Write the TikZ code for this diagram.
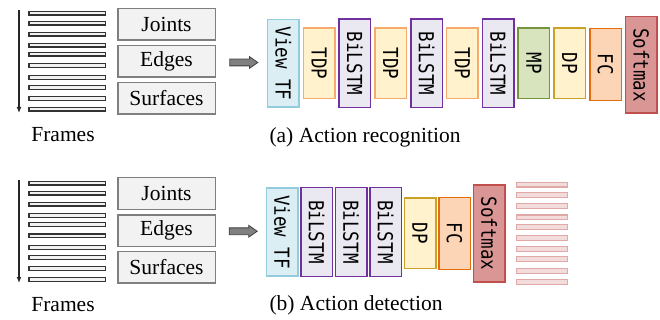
\documentclass[tikz,border=0pt]{standalone}
\usepackage{fontspec}
\setmainfont{Liberation Serif}
\newfontfamily\layerfont{DejaVu Sans Mono}
\usetikzlibrary{arrows.meta,calc,shapes.arrows}
\definecolor{inputfill}{HTML}{F2F2F2}
\definecolor{inputline}{HTML}{7F7F7F}
\definecolor{viewfill}{HTML}{DAEEF3}
\definecolor{viewline}{HTML}{93CDDD}
\definecolor{tdpfill}{HTML}{FFF2CC}
\definecolor{tdpline}{HTML}{F5AA6E}
\definecolor{lstmfill}{HTML}{EAE8F0}
\definecolor{lstmline}{HTML}{7030A0}
\definecolor{mpfill}{HTML}{D7E4BD}
\definecolor{mpline}{HTML}{77933C}
\definecolor{dpline}{HTML}{C9A227}
\definecolor{fcfill}{HTML}{FBD5B5}
\definecolor{fcline}{HTML}{E46C0A}
\definecolor{smfill}{HTML}{D99694}
\definecolor{smline}{HTML}{C0504D}
\definecolor{outfill}{HTML}{F2DCDB}
\definecolor{outline}{HTML}{E0A9A8}
\newcommand{\layertext}[1]{\scalebox{1}[1.18]{#1}}

\begin{document}
\begin{tikzpicture}[x=1pt,y=-1pt,
      serif/.style={font=\fontsize{21.5}{24}\selectfont},
      inputbox/.style={draw=inputline,fill=inputfill,line width=1.5pt,minimum width=97.5pt,minimum height=31.5pt,inner sep=0pt,serif},
      framebar/.style={draw=black!80,fill=inputfill,line width=1.2pt,minimum width=76.2pt,minimum height=3.8pt,inner sep=0pt},
      outbar/.style={draw=outline,fill=outfill,line width=1.2pt,minimum width=51pt,minimum height=4.8pt,inner sep=0pt},
      layer/.style={draw,rotate=-90,line width=1.5pt,minimum height=31.5pt,inner sep=0pt,font=\layerfont\fontsize{17.5}{18}\selectfont},
      viewtf/.style={layer,draw=viewline,fill=viewfill,minimum width=87.5pt},
      tdp/.style={layer,draw=tdpline,fill=tdpfill,minimum width=70.5pt},
      lstm/.style={layer,draw=lstmline,fill=lstmfill,minimum width=88.5pt},
      mp/.style={layer,draw=mpline,fill=mpfill,minimum width=70.5pt},
      dp/.style={layer,draw=dpline,fill=tdpfill,minimum width=70.5pt},
      fc/.style={layer,draw=fcline,fill=fcfill,minimum width=72pt},
      softmax/.style={layer,draw=smline,fill=smfill,minimum width=96.5pt},
      bigarrow/.style={single arrow,draw=black!75,fill=black!50,line width=0.8pt,inner xsep=0pt,inner ysep=3pt,minimum height=28pt,minimum width=11pt,single arrow head extend=2.5pt,single arrow tip angle=70},
      timearrow/.style={-{Latex[length=6pt,width=5pt]},line width=1.3pt,color=black!85}
    ]
      \useasboundingbox (0,0) rectangle (660,320);
      % (a) action recognition
      \foreach \y [count=\i] in {13.2,23.2,34.2,45.2,54.2,65.8,77.5,87.5,98.5,109.2}
        \node[framebar] (fa\i) at (67,\y) {};
      \coordinate (ta) at (19,10);
      \coordinate (tb) at (19,113);
      \draw[timearrow] (ta) -- (tb);
      \node[serif] (framesa) at (63,135) {Frames};
      \node[inputbox] (ja) at (166.5,24.5) {Joints};
      \node[inputbox] (ea) at (166.5,61.5) {Edges};
      \node[inputbox] (sa) at (166.5,98.5) {Surfaces};
      \node[viewtf] (va) at (283.3,63.5) {\layertext{View TF}};
      \node[tdp] (da1) at (319.1,63.5) {\layertext{TDP}};
      \node[lstm] (la1) at (354.9,63.5) {\layertext{BiLSTM}};
      \node[tdp] (da2) at (390.7,63.5) {\layertext{TDP}};
      \node[lstm] (la2) at (426.5,63.5) {\layertext{BiLSTM}};
      \node[tdp] (da3) at (462.3,63.5) {\layertext{TDP}};
      \node[lstm] (la3) at (498.1,63.5) {\layertext{BiLSTM}};
      \node[mp] (mpa) at (533.9,63.5) {\layertext{MP}};
      \node[dp] (dpa) at (569.7,63.5) {\layertext{DP}};
      \node[fc] (fca) at (605.5,64.5) {\layertext{FC}};
      \node[softmax] (sma) at (641.3,65) {\layertext{Softmax}};
      \node[bigarrow] (arra) at ($(ea.east)!0.5!(va.south)$) {};
      \node[serif,anchor=west] (capa) at (266,137) {(a) Action recognition};
      % (b) action detection
      \foreach \y [count=\i] in {13.2,23.2,34.2,45.2,54.2,65.8,77.5,87.5,98.5,109.2}
        \node[framebar] (fb\i) at (67,\y+170) {};
      \coordinate (tc) at (19,180);
      \coordinate (td) at (19,283);
      \draw[timearrow] (tc) -- (td);
      \node[serif] (framesb) at (63,305) {Frames};
      \node[inputbox] (jb) at (166.5,193.5) {Joints};
      \node[inputbox] (eb) at (166.5,230.5) {Edges};
      \node[inputbox] (sb) at (166.5,267) {Surfaces};
      \node[viewtf] (vb) at (282,232) {\layertext{View TF}};
      \node[lstm] (lb1) at (316.5,232) {\layertext{BiLSTM}};
      \node[lstm] (lb2) at (351,232) {\layertext{BiLSTM}};
      \node[lstm] (lb3) at (385.5,232) {\layertext{BiLSTM}};
      \node[dp] (dpb) at (420,233.3) {\layertext{DP}};
      \node[fc] (fcb) at (454.5,233.3) {\layertext{FC}};
      \node[softmax] (smb) at (489,233.5) {\layertext{Softmax}};
      \node[bigarrow] (arrb) at ($(eb.east)!0.5!(vb.south)$) {};
      \foreach \y [count=\i] in {184.7,195.3,206.3,217.3,227,238,249,259,270.7,282}
        \node[outbar] (ob\i) at (542.2,\y) {};
      \node[serif,anchor=west] (capb) at (266,305.5) {(b) Action detection};
    \end{tikzpicture}
\end{document}
